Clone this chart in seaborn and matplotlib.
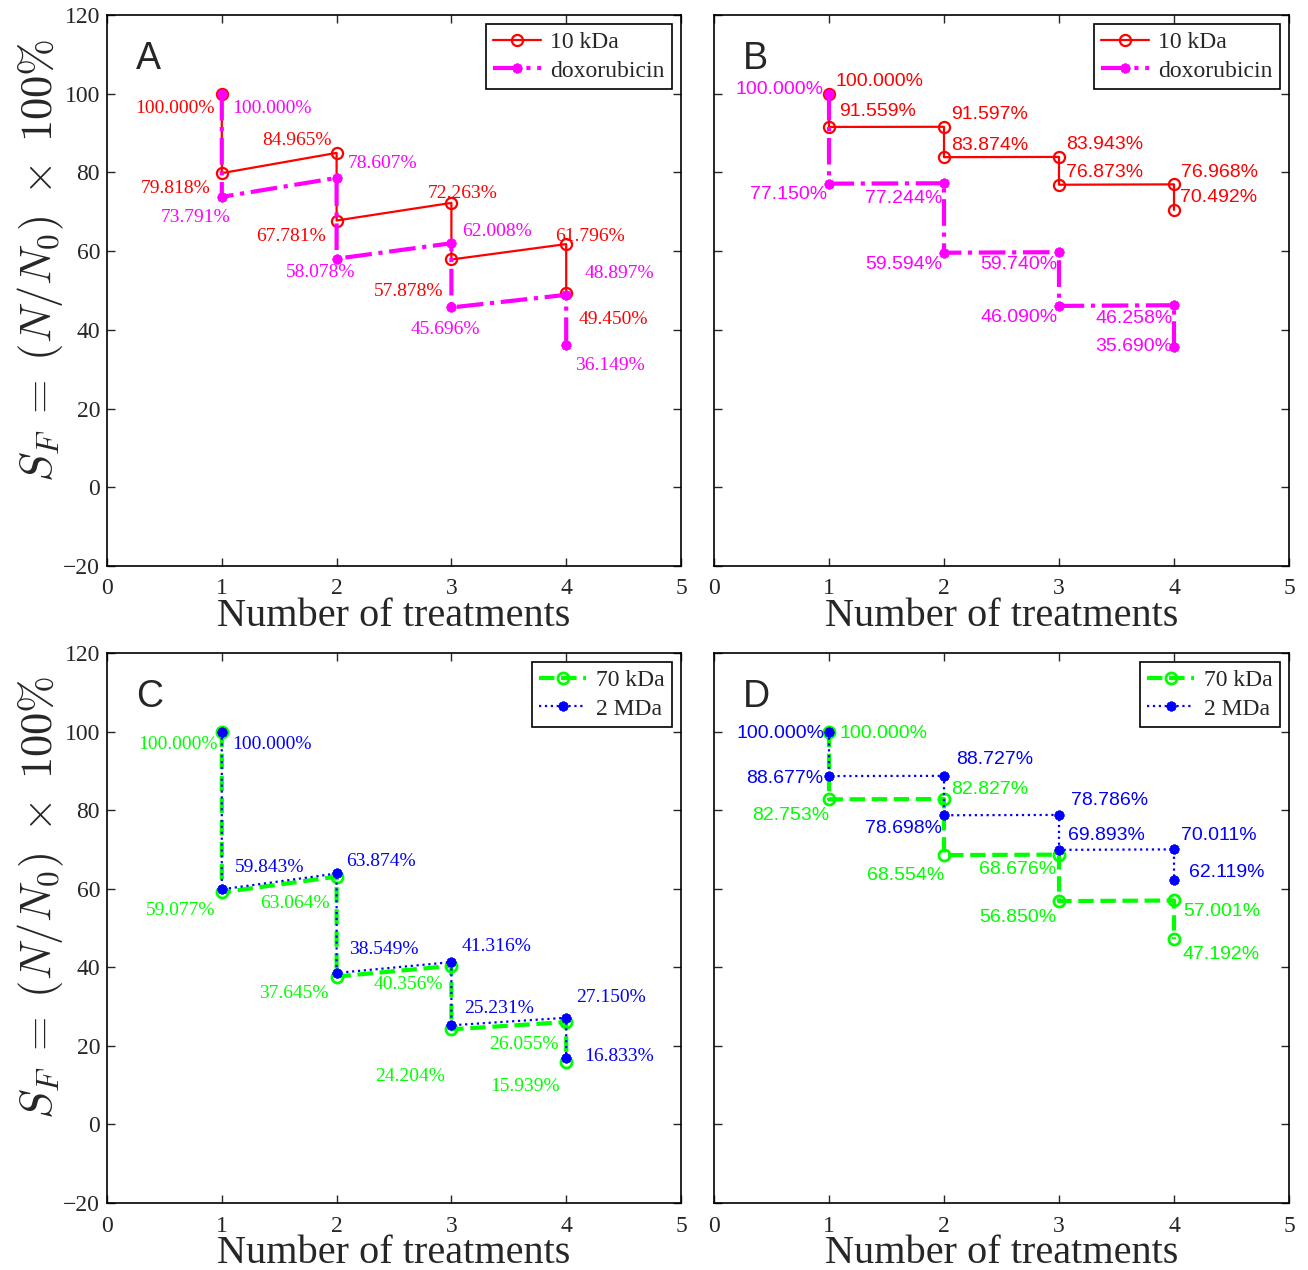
import matplotlib
matplotlib.use("Agg")
import matplotlib.pyplot as plt
import seaborn as sns
import pandas as pd

sns.set_style("ticks")
plt.rcParams['font.family'] = ['Liberation Serif', 'DejaVu Serif']
plt.rcParams['mathtext.fontset'] = 'cm'

# ---------------- data ----------------
x_steps = [1, 1, 2, 2, 3, 3, 4, 4]

a_10kda = [100.000, 79.818, 84.965, 67.781, 72.263, 57.878, 61.796, 49.450]
a_dox = [100.000, 73.791, 78.607, 58.078, 62.008, 45.696, 48.897, 36.149]

b_10kda = [100.000, 91.559, 91.597, 83.874, 83.943, 76.873, 76.968, 70.492]
b_dox = [100.000, 77.150, 77.244, 59.594, 59.740, 46.090, 46.258, 35.690]

c_70kda = [100.000, 59.077, 63.064, 37.645, 40.356, 24.204, 26.055, 15.939]
c_2mda = [100.000, 59.843, 63.874, 38.549, 41.316, 25.231, 27.150, 16.833]

d_70kda = [100.000, 82.753, 82.827, 68.554, 68.676, 56.850, 57.001, 47.192]
d_2mda = [100.000, 88.677, 88.727, 78.698, 78.786, 69.893, 70.011, 62.119]

x_ticks = [0, 1, 2, 3, 4, 5]
y_ticks = [-20, 0, 20, 40, 60, 80, 100, 120]

# label offsets (pixels: dx right, dy down) for each point
off_a1 = [(-47, 15), (-46, 15), (-40, -12), (-46, 16), (11, -9), (-43, 32), (24, -8), (47, 27)]
off_a2 = [(50, 15), (-26, 21), (46, -14), (-16, 14), (46, -12), (-6, 22), (53, -21), (44, 20)]
off_b1 = [(51, -12), (49, -15), (46, -12), (46, -12), (46, -12), (46, -12), (45, -12), (45, -12)]
off_b2 = [(-49, -4), (-40, 11), (-40, 15), (-40, 12), (-40, 12), (-40, 12), (-40, 13), (-40, 0)]
off_c1 = [(-44, 13), (-41, 18), (-42, 27), (-43, 17), (-43, 19), (-41, 47), (-42, 22), (-41, 25)]
off_c2 = [(50, 13), (48, -22), (44, -12), (47, -23), (45, -16), (48, -17), (45, -20), (53, -2)]
off_d1 = [(55, 2), (-38, 16), (46, -10), (-38, 20), (-41, 15), (-41, 16), (48, 11), (47, 15)]
off_d2 = [(-48, 2), (-44, 2), (51, -16), (-40, 13), (51, -14), (47, -14), (45, -14), (53, -8)]

RED, MAG, GRN, BLU = '#FF0000', '#FF00FF', '#00FF00', '#0000FF'
AST = (8, 2, 0)

style_10 = dict(color=RED, linestyle='-', lw=1.6, marker='o', ms=8, mfc='none', mec=RED, mew=1.6)
style_dox = dict(color=MAG, linestyle='-.', lw=3.0, marker=AST, ms=7, mec=MAG, mew=2.0)
style_70 = dict(color=GRN, linestyle='--', lw=3.0, marker='o', ms=8, mfc='none', mec=GRN, mew=2.0)
style_2m = dict(color=BLU, linestyle=':', lw=1.6, marker=AST, ms=7, mec=BLU, mew=2.0)

SERIF = ['Liberation Serif']
SANS = ['Liberation Sans']

fig = plt.figure(figsize=(13.08, 12.70), dpi=100)
W, H = 1308, 1270


def ax_at(l, t, r, b):
    return fig.add_axes([l / W, 1 - b / H, (r - l) / W, (b - t) / H])


axA = ax_at(107, 15, 681, 566)
axB = ax_at(714, 15, 1289, 566)
axC = ax_at(107, 653, 681, 1203)
axD = ax_at(714, 653, 1289, 1203)

panels = [
    (axA, 'A', a_10kda, a_dox, '10 kDa', 'doxorubicin', style_10, style_dox, off_a1, off_a2, SERIF, True),
    (axB, 'B', b_10kda, b_dox, '10 kDa', 'doxorubicin', style_10, style_dox, off_b1, off_b2, SANS, False),
    (axC, 'C', c_70kda, c_2mda, '70 kDa', '2 MDa', style_70, style_2m, off_c1, off_c2, SERIF, True),
    (axD, 'D', d_70kda, d_2mda, '70 kDa', '2 MDa', style_70, style_2m, off_d1, off_d2, SANS, False),
]

for ax, letter, s1, s2, n1, n2, st1, st2, o1, o2, fam, ylabels in panels:
    df1 = pd.DataFrame({'x': x_steps, 'y': s1})
    df2 = pd.DataFrame({'x': x_steps, 'y': s2})
    sns.lineplot(data=df1, x='x', y='y', sort=False, estimator=None, ax=ax, label=n1, **st1)
    sns.lineplot(data=df2, x='x', y='y', sort=False, estimator=None, ax=ax, label=n2, **st2)

    for vals, offs, col in ((s1, o1, st1['color']), (s2, o2, st2['color'])):
        for xv, yv, (dx, dy) in zip(x_steps, vals, offs):
            ax.annotate(f"{yv:.3f}%", (xv, yv), xytext=(dx, -dy), textcoords='offset pixels',
                        ha='center', va='center', color=col, fontsize=14, family=fam)

    ax.set_xlim(0, 5)
    ax.set_ylim(-20, 120)
    ax.set_xticks(x_ticks)
    ax.set_yticks(y_ticks)
    ax.set_xticklabels([str(v) for v in x_ticks], family=SERIF, fontsize=17)
    if ylabels:
        ax.set_yticklabels(['\u2212' + str(-v) if v < 0 else str(v) for v in y_ticks],
                           family=SERIF, fontsize=17)
        ax.set_ylabel(r'$S_F\;=\;(N/N_0)\;\times\;100\%$', fontsize=32)
        ax.yaxis.set_label_coords(-0.072, 0.555)
    else:
        ax.set_yticklabels([])
        ax.set_ylabel('')
    ax.set_xlabel('Number of treatments', fontsize=29, family=SERIF, labelpad=-1)
    ax.tick_params(axis='x', pad=9)
    ax.tick_params(axis='y', pad=5)
    ax.tick_params(direction='in', top=True, right=True, length=6, width=1)
    for sp in ax.spines.values():
        sp.set_linewidth(1.2)
        sp.set_color('black')
    ax.text(0.05, 0.92, letter, transform=ax.transAxes, fontsize=27, family=SANS,
            ha='left', va='center')
    leg = ax.legend(loc='upper right', frameon=True, fancybox=False, framealpha=1,
                    edgecolor='black', borderpad=0.3, handlelength=2.0, handletextpad=0.4,
                    labelspacing=0.3, borderaxespad=0.4, prop={'family': SERIF, 'size': 17})
    leg.get_frame().set_linewidth(1.2)

fig.savefig('out.png', dpi=100)
